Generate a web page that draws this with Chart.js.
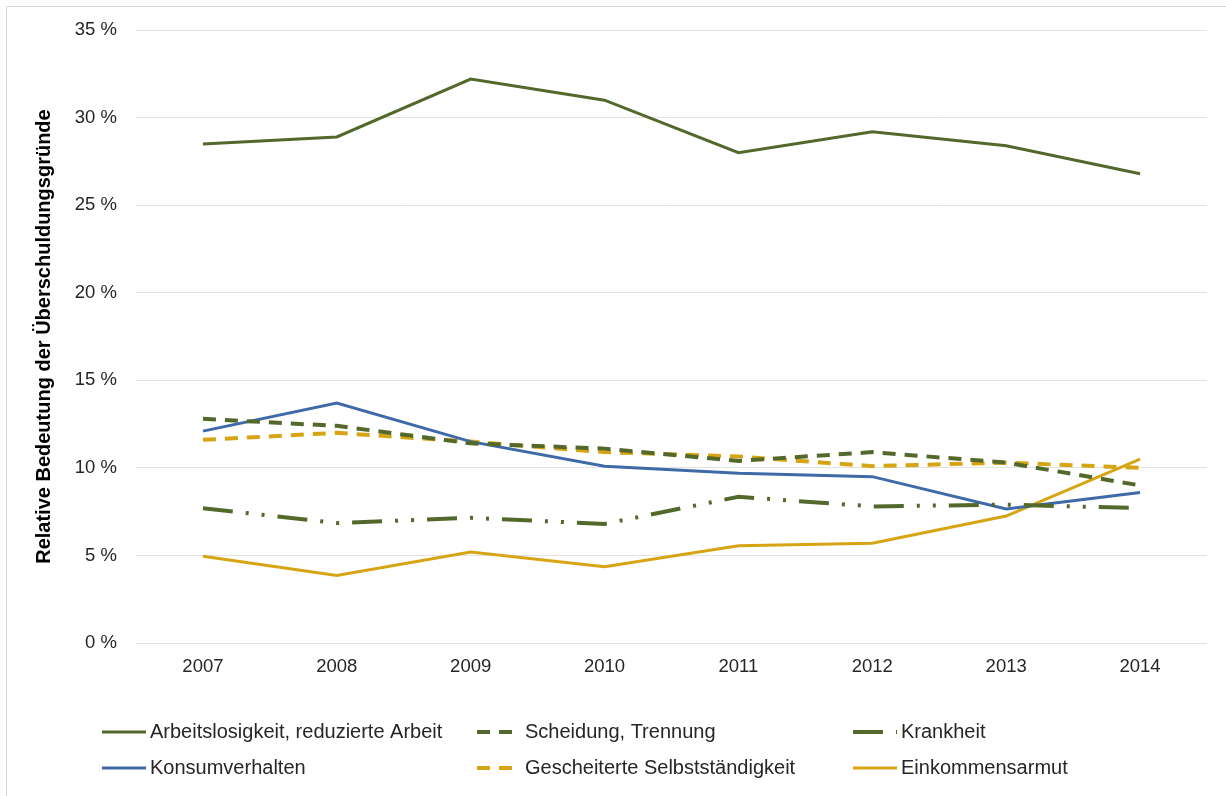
<!DOCTYPE html>
<html>
<head>
<meta charset="utf-8">
<script src="https://cdn.jsdelivr.net/npm/chart.js@4/dist/chart.umd.min.js"></script>
<style>
  html, body { margin: 0; padding: 0; background: #fff; }
  #wrap { width: 1226px; height: 796px; }
</style>
</head>
<body>
<div id="wrap"><canvas id="lineChart"></canvas></div>
<script>
const years = ["2007", "2008", "2009", "2010", "2011", "2012", "2013", "2014"];
const arbeitslosigkeit = [28.5, 28.9, 32.2, 31.0, 28.0, 29.2, 28.4, 26.8];
const scheidung = [12.8, 12.4, 11.4, 11.1, 10.4, 10.9, 10.3, 9.0];
const krankheit = [7.7, 6.85, 7.15, 6.8, 8.35, 7.8, 7.9, 7.7];
const konsum = [12.1, 13.7, 11.5, 10.1, 9.7, 9.5, 7.65, 8.6];
const selbststaendigkeit = [11.6, 12.0, 11.5, 10.9, 10.65, 10.1, 10.3, 10.0];
const einkommensarmut = [4.95, 3.85, 5.2, 4.35, 5.55, 5.7, 7.25, 10.5];
const yTicks = [0, 5, 10, 15, 20, 25, 30, 35];

const green = "#53692c";
const blue = "#3e6aa8";
const gold = "#d7a514";
const font = "'Liberation Sans', Arial, sans-serif";

// legend slots: column, row
const legendSlots = [[0, 0], [1, 0], [2, 0], [0, 1], [1, 1], [2, 1]];
const legendCols = [102, 477, 853];
const legendRows = [732, 768];

const customLegend = {
  id: "customLegend",
  afterDraw(chart) {
    const ctx = chart.ctx;
    ctx.save();
    // outer frame
    ctx.strokeStyle = "#d9d9d9";
    ctx.lineWidth = 1;
    ctx.strokeRect(6.5, 6.5, 1400, 1000);
    chart.data.datasets.forEach((ds, i) => {
      const [c, r] = legendSlots[i];
      const x = legendCols[c];
      const y = legendRows[r];
      ctx.strokeStyle = ds.borderColor;
      ctx.lineWidth = ds.borderWidth;
      ctx.setLineDash(ds.borderDash || []);
      ctx.beginPath();
      ctx.moveTo(x, y);
      ctx.lineTo(x + 44, y);
      ctx.stroke();
      ctx.setLineDash([]);
      ctx.fillStyle = "#262626";
      ctx.font = "20px " + font;
      ctx.textBaseline = "middle";
      ctx.fillText(ds.label, x + 48, y);
    });
    ctx.restore();
  }
};

function line(label, data, color, width, dash) {
  return {
    label: label,
    data: data,
    borderColor: color,
    backgroundColor: color,
    borderWidth: width,
    borderDash: dash,
    pointRadius: 0,
    tension: 0,
    fill: false
  };
}

new Chart(document.getElementById("lineChart"), {
  type: "line",
  data: {
    labels: years,
    datasets: [
      line("Arbeitslosigkeit, reduzierte Arbeit", arbeitslosigkeit, green, 3, []),
      line("Scheidung, Trennung", scheidung, green, 4, [13, 9]),
      line("Krankheit", krankheit, green, 4, [30, 13, 3, 13, 3, 13]),
      line("Konsumverhalten", konsum, blue, 3, []),
      line("Gescheiterte Selbstständigkeit", selbststaendigkeit, gold, 4, [13, 9]),
      line("Einkommensarmut", einkommensarmut, gold, 3, [])
    ]
  },
  options: {
    responsive: true,
    maintainAspectRatio: false,
    animation: false,
    layout: { padding: { left: 32, top: 26, right: 19, bottom: 0 } },
    plugins: {
      legend: { display: false },
      tooltip: { enabled: false }
    },
    scales: {
      x: {
        offset: true,
        grid: { display: false, drawTicks: false },
        border: { display: false },
        ticks: { color: "#262626", font: { family: font, size: 18.5 }, padding: 13, maxRotation: 0 },
        afterFit(scale) { scale.height = 153; }
      },
      y: {
        min: 0,
        max: 35,
        afterBuildTicks(scale) { scale.ticks = yTicks.map(v => ({ value: v })); },
        grid: { color: "#e3e3e3", lineWidth: 1, drawTicks: false },
        border: { display: false },
        ticks: {
          color: "#262626",
          font: { family: font, size: 18.5 },
          padding: 19,
          callback: v => v + " %"
        },
        title: {
          display: true,
          text: "Relative Bedeutung der Überschuldungsgründe",
          color: "#000",
          font: { family: font, size: 20, weight: "bold" },
          padding: { top: 0, bottom: 0 }
        },
        afterFit(scale) { scale.width = 104; }
      }
    }
  },
  plugins: [customLegend]
});
</script>
</body>
</html>
